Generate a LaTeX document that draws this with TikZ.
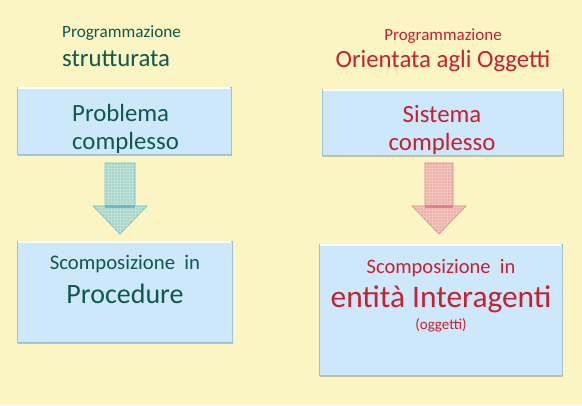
\documentclass[tikz,border=0pt]{standalone}
\usepackage{fontspec}
\setmainfont{Carlito}
\usetikzlibrary{shadows,patterns,calc}
\definecolor{bgyellow}{HTML}{FAF5C2}
\definecolor{boxfill}{HTML}{CCE8FA}
\definecolor{boxedge}{HTML}{9DBFD8}
\definecolor{tealtext}{HTML}{0F5850}
\definecolor{redtext}{HTML}{C52130}
\definecolor{arrLfill}{HTML}{A8D6CA}
\definecolor{arrLedge}{HTML}{6DBAC6}
\definecolor{arrRfill}{HTML}{EEB2A8}
\definecolor{arrRedge}{HTML}{E0828E}
\tikzset{
  box/.style={rectangle, draw=boxedge, fill=boxfill, line width=0.9pt, inner sep=0pt,
    drop shadow={shadow xshift=1.2pt, shadow yshift=-1.8pt, opacity=0.35, fill=black!60}},
  txt/.style={anchor=base, inner sep=0pt},
  teal/.style={text=tealtext},
  red/.style={text=redtext},
}
\begin{document}
\begin{tikzpicture}[x=1pt,y=-1pt]
\fill[bgyellow] (0,0) rectangle (582,405);
\useasboundingbox (0,0) rectangle (582,405);

% boxes
\node[box, minimum width=214pt, minimum height=67pt] (p1) at (124,120.5) {};
\node[box, minimum width=215pt, minimum height=101pt] (p2) at (124.5,291.5) {};
\node[box, minimum width=241pt, minimum height=66pt] (o1) at (442.5,122) {};
\node[box, minimum width=243pt, minimum height=131pt] (o2) at (440.5,309.5) {};
% white highlight on top edges
\foreach \b in {p1,p2,o1,o2}{
  \draw[white, line width=1.2pt] ($(\b.north west)+(1.5,1.5)$) -- ($(\b.north east)+(-1.5,1.5)$);
}

% headers
\node[txt, teal, anchor=base west, font=\fontsize{17.2}{20}\selectfont] (h1a) at (62,37) {Programmazione};
\node[txt, teal, anchor=base west, font=\fontsize{24.8}{28}\selectfont] (h1b) at (62,66) {strutturata};
\node[txt, red, font=\fontsize{17}{20}\selectfont] (h2a) at (443,40) {Programmazione};
\node[txt, red, font=\fontsize{24.8}{28}\selectfont] (h2b) at (443,67.5) {Orientata agli Oggetti};

% box texts
\node[txt, teal, anchor=base west, font=\fontsize{24.8}{28}\selectfont] (t1a) at (72,121) {Problema};
\node[txt, teal, anchor=base west, font=\fontsize{24.8}{28}\selectfont] (t1b) at (72,149) {complesso};
\node[txt, teal, font=\fontsize{20.7}{24}\selectfont] (t2a) at (125,269) {Scomposizione\ \ in};
\node[txt, teal, font=\fontsize{28}{32}\selectfont] (t2b) at (125,303) {Procedure};

\node[txt, red, font=\fontsize{24.8}{28}\selectfont] (t3a) at (442,122) {Sistema};
\node[txt, red, font=\fontsize{24.8}{28}\selectfont] (t3b) at (442,150) {complesso};
\node[txt, red, font=\fontsize{20.5}{24}\selectfont] (t4a) at (441,273) {Scomposizione\ \ in};
\node[txt, red, font=\fontsize{31.4}{34}\selectfont] (t4b) at (441,307) {entità Interagenti};
\node[txt, red, font=\fontsize{15}{18}\selectfont] (t4c) at (441,329) {(oggetti)};

% block arrows
\coordinate (aL) at (120,163);
\coordinate (aR) at (439,163);
\foreach \c/\f/\e/\sw in {aL/arrLfill/arrLedge/15, aR/arrRfill/arrRedge/14}{
  \path[fill=\f, draw=\e, line width=0.6pt]
    ($(\c)+(-\sw,0)$) -- ($(\c)+(\sw,0)$) -- ($(\c)+(\sw,43)$) -- ($(\c)+(27,43)$)
    -- ($(\c)+(0,71)$) -- ($(\c)+(-27,43)$) -- ($(\c)+(-\sw,43)$) -- cycle;
  \path[pattern=grid, pattern color=white, opacity=0.22]
    ($(\c)+(-\sw,0)$) -- ($(\c)+(\sw,0)$) -- ($(\c)+(\sw,43)$) -- ($(\c)+(27,43)$)
    -- ($(\c)+(0,71)$) -- ($(\c)+(-27,43)$) -- ($(\c)+(-\sw,43)$) -- cycle;
  \fill[\e] ($(\c)+(-\sw,42)$) rectangle ($(\c)+(\sw,45)$);
}
\end{tikzpicture}
\end{document}
